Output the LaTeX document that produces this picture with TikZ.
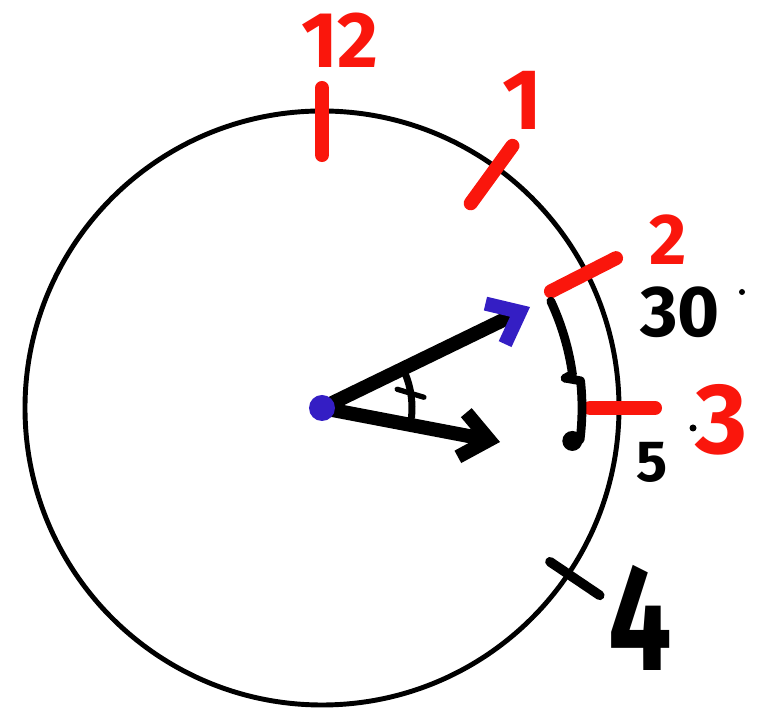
\documentclass[tikz,border=0pt]{standalone}
\usepackage{fontspec}
\setmainfont{Fira Sans}
\usepackage{tikz}
\usetikzlibrary{arrows.meta,positioning,calc}
\definecolor{pen}{RGB}{250,22,12}
\definecolor{ink}{RGB}{52,30,196}

\begin{document}
\begin{tikzpicture}[
  every node/.style={inner sep=0pt},
  hr/.style={text=pen,font=\bfseries\fontsize{#1}{#1}\selectfont},
  hb/.style={text=black,font=\bfseries\fontsize{#1}{#1}\selectfont},
  tk/.style={pen,line width=8pt,line cap=round},
  ar/.style={line width=8pt,line cap=round}]
 \useasboundingbox (-6.44,-6.14) rectangle (8.8,8.16);
 \coordinate (O) at (0,0);
 \draw[line width=2.8pt] (O) circle (5.94);
 % hour ticks
 \foreach \a/\ri/\ro in {90/5.06/6.4, 54/5.06/6.48, 27/5.14/6.6, 0/5.36/6.66}
   \draw[tk] (\a:\ri) -- (\a:\ro);
 \draw[line width=5.5pt,line cap=round] (-34:5.5) -- (-34:6.7);
 \node[hr=45] (h12) at (0.36,7.36) {12};
 \node[hr=49] (h1)  at (4.0,6.16) {1};
 \node[hr=41] (h2)  at (6.92,3.36) {2};
 \node[hr=57] (h3)  at (8.0,-0.24) {3};
 \node[hb=64,yscale=1.35] (h4) at (6.36,-4.2) {4};
 \node[hb=41] (m30) at (7.16,1.92) {30};
 \node[hb=33] (m5)  at (6.6,-1.08) {5};
 \fill (8.4,2.32) circle (0.06);
 \fill (7.42,-0.4) circle (0.07);
 % hands
 \coordinate (A) at (4.16,2.02);
 \coordinate (B) at (3.56,-0.68);
 \draw[ar,-{Straight Barb[color=ink,length=0.55cm,width=0.9cm]}] (O) -- (A);
 \draw[ar,-{Straight Barb[length=0.55cm,width=0.9cm]}] (O) -- (B);
 \fill[ink] (O) circle (0.26);
 \draw[line width=4pt,line cap=round] (22:1.8) arc[start angle=22,end angle=-6,radius=1.8];
 \draw[line width=3pt,line cap=round] (14:1.55) -- (6:2.05);
 % brace
 \draw[line width=5pt,line cap=round,line join=round]
   (25:5.05) arc[start angle=25,end angle=8,radius=5.15] -- (7:4.9);
 \draw[line width=5pt,line cap=round,line join=round]
   (7:4.9) -- (6:5.2) arc[start angle=6,end angle=-7,radius=5.2];
 \fill (-7.5:5.05) circle (0.2);
\end{tikzpicture}
\end{document}
